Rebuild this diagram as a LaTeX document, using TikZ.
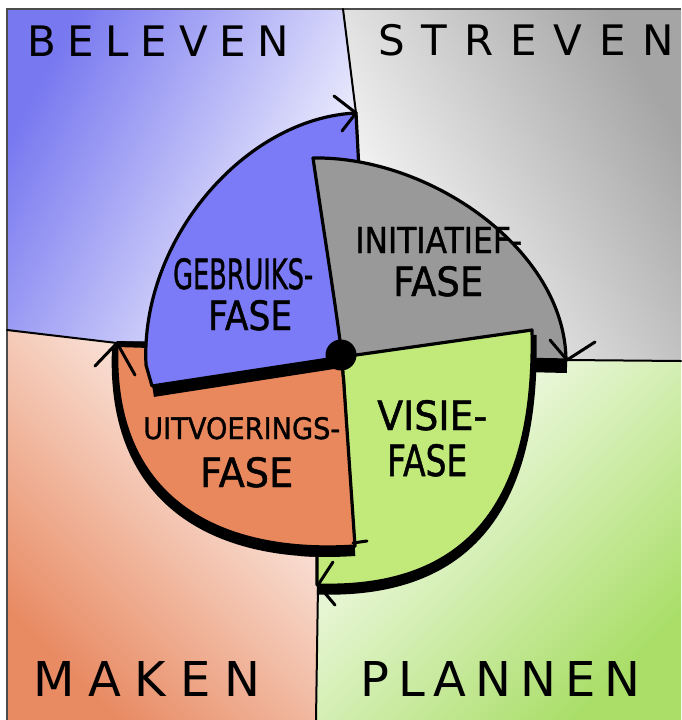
\documentclass[tikz,border=0pt]{standalone}
\usepackage{fontspec}
\setmainfont{DejaVu Sans}
\newfontfamily\handfont[FakeBold=1.2]{DejaVu Sans}
\usepackage{graphicx}

\definecolor{qblue}{RGB}{120,120,240}
\definecolor{qgray}{RGB}{165,165,165}
\definecolor{qorange}{RGB}{232,138,98}
\definecolor{qgreen}{RGB}{170,222,105}
\definecolor{fblue}{RGB}{123,123,248}
\definecolor{fgray}{RGB}{153,153,153}
\definecolor{fgreen}{RGB}{194,234,122}
\definecolor{forange}{RGB}{232,136,92}

\tikzset{
  seg/.style={draw=black, line width=3.2pt, line join=round},
  band/.style={draw=black, line width=10pt},
  divider/.style={draw=black, line width=2pt, line cap=round},
  arrowstroke/.style={draw=black, line width=3pt, line cap=round, line join=round},
  qlabel/.style={anchor=base west, inner sep=0pt},
  slabel/.style={anchor=base west, inner sep=0pt},
}
\newcommand{\seglab}[3]{\resizebox{#1pt}{#2pt}{\handfont #3}}

\begin{document}
\begin{tikzpicture}[x=1pt,y=-1pt]
\useasboundingbox (0,0) rectangle (681,720);
\fill[white] (0,0) rectangle (681,720);

\coordinate (tT) at (343,9);
\coordinate (tA) at (356,113);
\coordinate (cc) at (341,356);
\coordinate (rA) at (567,360);
\coordinate (rR) at (681,361);
\coordinate (bA) at (318,585);
\coordinate (bB) at (316,720);
\coordinate (lA) at (117,343);
\coordinate (lL) at (7,330);

% quadrant backgrounds
\shade[top color=qblue, bottom color=white, shading angle=62] (7,9) -- (tT) -- (tA) -- (cc) -- (lA) -- (lL) -- cycle;
\shade[top color=qgray, bottom color=white, shading angle=-60] (tT) -- (681,9) -- (rR) -- (rA) -- (cc) -- (tA) -- cycle;
\shade[top color=white, bottom color=qorange, shading angle=-45] (lL) -- (lA) -- (cc) -- (bA) -- (bB) -- (7,720) -- cycle;
\shade[top color=white, bottom color=qgreen, shading angle=45] (cc) -- (rA) -- (rR) -- (681,720) -- (bB) -- (bA) -- cycle;

\draw[gray!60!black, line width=1.2pt] (7,720) -- (7,9) -- (681,9);

% orange segment
\draw[band, shift={(0,5)}] (117,343) .. controls (110,500) and (220,555) .. (355,546);
\draw[seg, fill=forange] (342,357) -- (148,343) -- (117,343) .. controls (110,500) and (220,555) .. (355,546) -- cycle;
\draw[black, line width=6pt] (117,344) -- (150,345);

% blue segment
\draw[black, line width=12pt] (153,391) -- (340,362);
\draw[seg, fill=fblue] (342,357) -- (152,386) -- (146,365) .. controls (140,240) and (245,118) .. (356,113) -- (359,170) -- cycle;

% gray segment
\draw[black, line width=12pt] (345,362) -- (567,367);
\draw[seg, fill=fgray] (342,356) .. controls (335,300) and (322,220) .. (313,158) .. controls (430,156) and (565,250) .. (566,360) -- cycle;

% green segment
\draw[black, line width=9pt, shift={(0,5)}] (532,330) .. controls (536,500) and (470,590) .. (317,585);
\draw[seg, fill=fgreen] (342,357) -- (532,330) .. controls (536,500) and (470,590) .. (317,585) -- (317,553) -- (354,547) -- cycle;

% orange again, over green
\begin{scope}
  \clip (300,377) rectangle (420,600);
  \draw[band, shift={(0,5)}] (117,343) .. controls (110,500) and (220,555) .. (355,546);
  \draw[seg, fill=forange] (342,357) -- (148,343) -- (117,343) .. controls (110,500) and (220,555) .. (355,546) -- cycle;
\end{scope}
\draw[black, line width=3pt, line cap=round] (353,543) -- (367,541);

% centre dot
\fill[black] (341,355) circle (15.5);

% dividers
\draw[divider] (tT) -- (tA);
\draw[divider] (rA) -- (rR);
\draw[divider] (bA) -- (bB);
\draw[divider] (lL) -- (lA);

% arrowheads
\draw[arrowstroke] (334,96) -- (tA) -- (342,131);
\draw[arrowstroke] (550,340) -- (rA) -- (595,342);
\draw[arrowstroke] (333,562) -- (bA) -- (335,605);
\draw[arrowstroke] (95,366) -- (lA) -- (135,375);

% quadrant labels
\node[qlabel, font=\fontsize{42}{44}\selectfont] (beleven) at (27,56) {\makebox[262pt][s]{B\hfill E\hfill L\hfill E\hfill V\hfill E\hfill N}};
\node[qlabel, font=\fontsize{42}{44}\selectfont] (streven) at (378,55) {\makebox[296pt][s]{S\hfill T\hfill R\hfill E\hfill V\hfill E\hfill N}};
\node[qlabel, font=\fontsize{48}{50}\selectfont] (maken) at (33,696) {\makebox[227pt][s]{M\hfill A\hfill K\hfill E\hfill N}};
\node[qlabel, font=\fontsize{48}{50}\selectfont] (plannen) at (360,696) {\makebox[280pt][s]{P\hfill L\hfill A\hfill N\hfill N\hfill E\hfill N}};

% segment labels
\node[slabel] (gebr1) at (173,289) {\seglab{140}{31}{GEBRUIKS-}};
\node[slabel] (gebr2) at (208,330) {\seglab{84}{30}{FASE}};
\node[slabel] (init1) at (355,253) {\seglab{167}{26}{INITIATIEF-}};
\node[slabel] (init2) at (393,296) {\seglab{90}{30}{FASE}};
\node[slabel] (uitv1) at (143,439) {\seglab{197}{22}{UITVOERINGS-}};
\node[slabel] (uitv2) at (200,487) {\seglab{93}{30}{FASE}};
\node[slabel] (visie1) at (377,430) {\seglab{110}{30}{VISIE-}};
\node[slabel] (visie2) at (387,476) {\seglab{80}{32}{FASE}};
\end{tikzpicture}
\end{document}
